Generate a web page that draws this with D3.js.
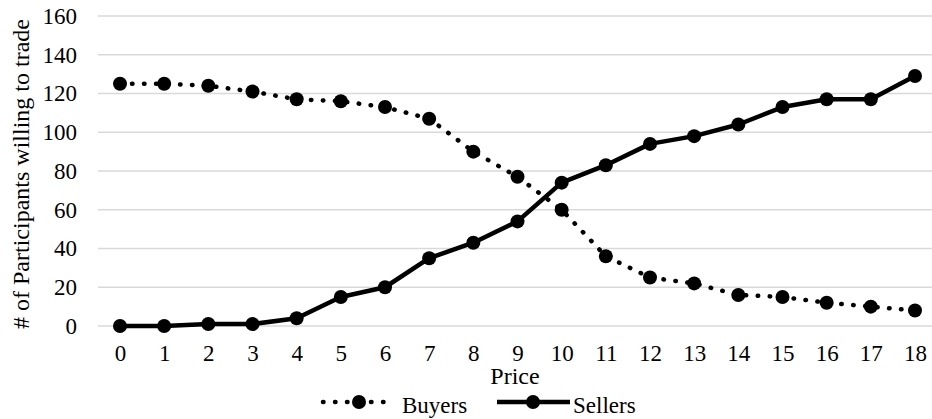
<!DOCTYPE html>
<html><head><meta charset="utf-8">
<script src="https://cdn.jsdelivr.net/npm/d3@7"></script>
<style>body{margin:0;background:#fff}</style>
</head><body><svg id="c" width="932" height="419"></svg>
<script>
const prices = ["0","1","2","3","4","5","6","7","8","9","10","11","12","13","14","15","16","17","18"];
const buyers = [125,125,124,121,117,116,113,107,90,77,60,36,25,22,16,15,12,10,8];
const sellers = [0,0,1,1,4,15,20,35,43,54,74,83,94,98,104,113,117,117,129];
const yTicks = [0,20,40,60,80,100,120,140,160];

const FONT = "Liberation Serif";
const FS = 23;
const svg = d3.select("#c");
const x = d3.scalePoint().domain(prices).range([120,915]);
const y = d3.scaleLinear().domain([0,160]).range([326,16]);

svg.append("g").selectAll("line").data(yTicks).join("line")
  .attr("x1",98).attr("x2",932).attr("y1",d=>y(d)).attr("y2",d=>y(d))
  .attr("stroke","#d9d9d9").attr("stroke-width",1.5);

const ya = svg.append("g").attr("transform","translate(77,0)")
  .call(d3.axisLeft(y).tickValues(yTicks).tickSize(0).tickPadding(0));
ya.attr("font-family", null).attr("font-size", null);
ya.select(".domain").remove();
ya.selectAll("text").attr("fill","#000").attr("font-family",FONT).attr("font-size",FS);

const xa = svg.append("g").attr("transform","translate(0,345)")
  .call(d3.axisBottom(x).tickSize(0).tickPadding(0));
xa.attr("font-family", null).attr("font-size", null);
xa.select(".domain").remove();
xa.selectAll("text").attr("fill","#000").attr("dy","0.71em").attr("font-family",FONT).attr("font-size",FS);

svg.append("text").attr("x",515).attr("y",384).attr("text-anchor","middle")
  .attr("font-family",FONT).attr("font-size",24).text("Price");
svg.append("text").attr("transform","translate(29,174) rotate(-90)").attr("text-anchor","middle")
  .attr("font-family",FONT).attr("font-size",24).text("# of Participants willing to trade");

const line = d3.line().x((d,i)=>x(prices[i])).y(d=>y(d));
svg.append("path").datum(buyers).attr("d",line).attr("fill","none").attr("stroke","#000")
  .attr("stroke-width",4.5).attr("stroke-linecap","round").attr("stroke-dasharray","0.5 11.5");
svg.append("g").selectAll("circle").data(buyers).join("circle")
  .attr("cx",(d,i)=>x(prices[i])).attr("cy",d=>y(d)).attr("r",7);
svg.append("path").datum(sellers).attr("d",line).attr("fill","none").attr("stroke","#000")
  .attr("stroke-width",4.5).attr("stroke-linejoin","round");
svg.append("g").selectAll("circle").data(sellers).join("circle")
  .attr("cx",(d,i)=>x(prices[i])).attr("cy",d=>y(d)).attr("r",7);

const ly = 402;
const lg = svg.append("g");
lg.append("line").attr("x1",323).attr("x2",391).attr("y1",ly).attr("y2",ly).attr("stroke","#000")
  .attr("stroke-width",4.5).attr("stroke-linecap","round").attr("stroke-dasharray","0.5 11.5");
lg.append("circle").attr("cx",359).attr("cy",ly).attr("r",7);
lg.append("text").attr("x",402).attr("y",413).attr("font-family",FONT).attr("font-size",FS).text("Buyers");
lg.append("line").attr("x1",497).attr("x2",570).attr("y1",ly).attr("y2",ly).attr("stroke","#000").attr("stroke-width",4.5);
lg.append("circle").attr("cx",533).attr("cy",ly).attr("r",7);
lg.append("text").attr("x",573).attr("y",413).attr("font-family",FONT).attr("font-size",FS).text("Sellers");
</script></body></html>
